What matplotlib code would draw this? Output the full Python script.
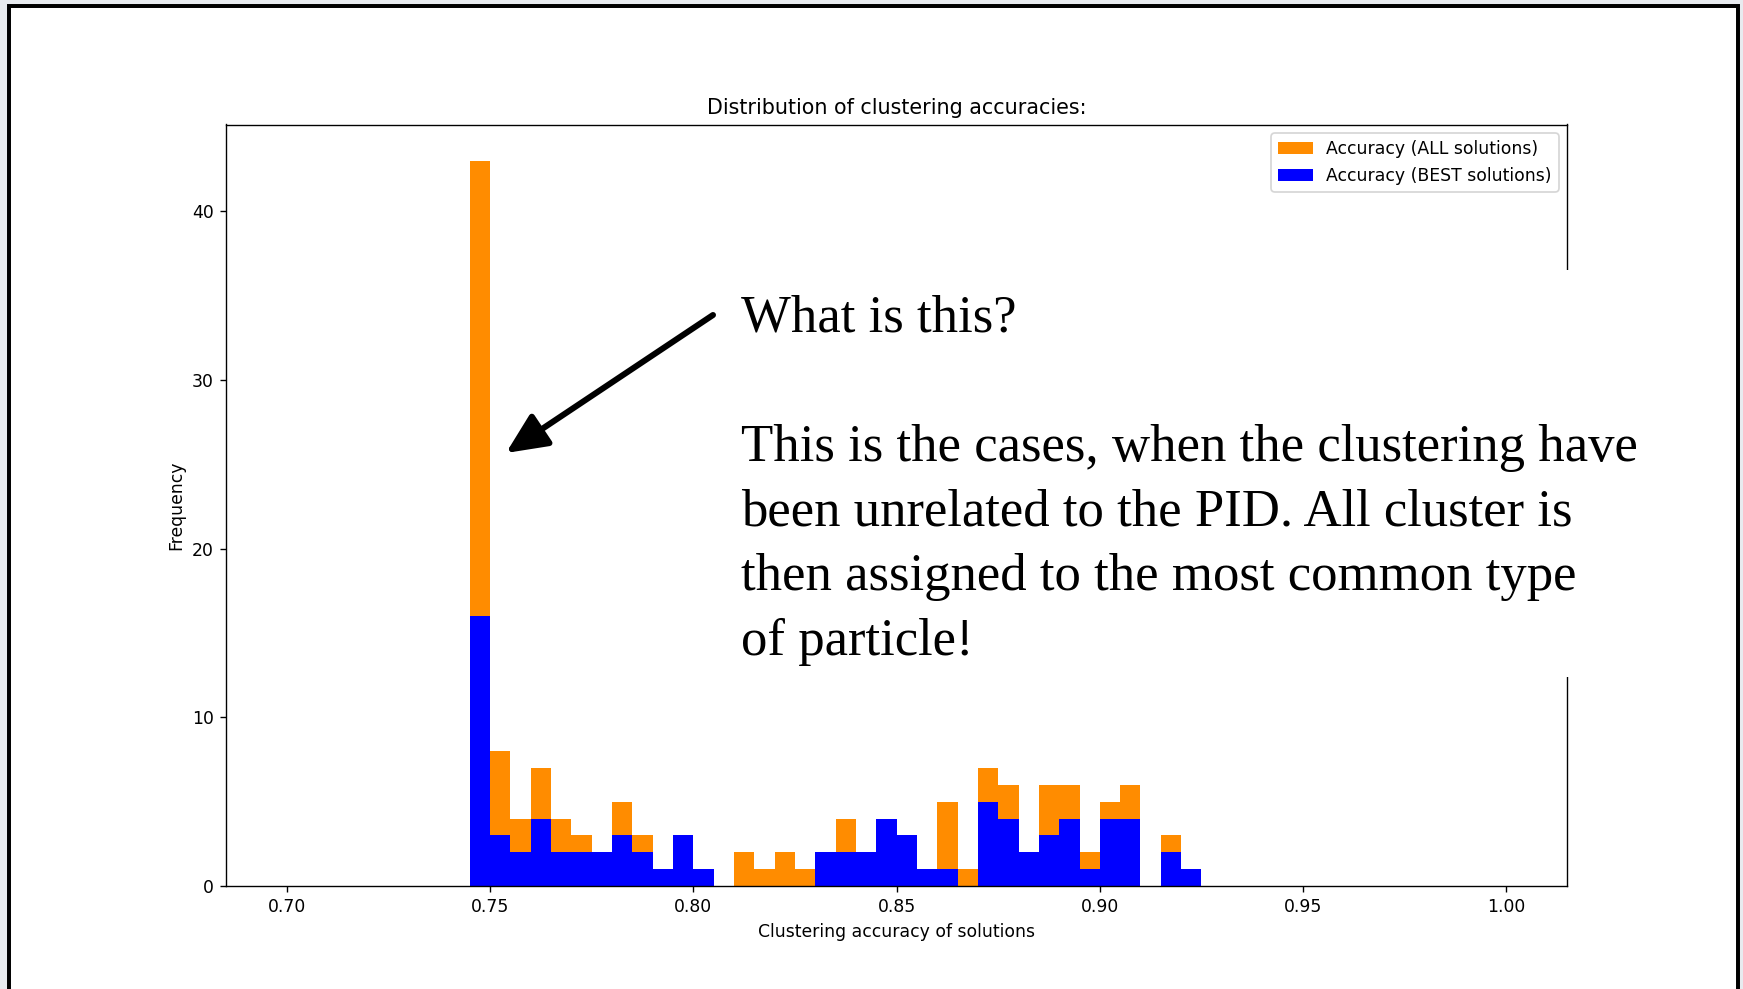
import numpy as np
import matplotlib
matplotlib.use("Agg")
import matplotlib.pyplot as plt
from matplotlib.patches import Rectangle

# histogram counts, 60 bins of width 0.005 between 0.70 and 1.00
bin_edges = np.linspace(0.70, 1.00, 61)
counts_all = [0, 0, 0, 0, 0, 0, 0, 0, 0,
              43, 8, 4, 7, 4, 3, 2, 5, 3, 1, 3, 1, 0,
              2, 1, 2, 1, 2, 4, 2, 4, 3, 1, 5, 1,
              7, 6, 2, 6, 6, 2, 5, 6, 0, 3, 1,
              0, 0, 0, 0, 0, 0, 0, 0, 0, 0, 0, 0, 0, 0, 0]
counts_best = [0, 0, 0, 0, 0, 0, 0, 0, 0,
               16, 3, 2, 4, 2, 2, 2, 3, 2, 1, 3, 1, 0,
               0, 0, 0, 0, 2, 2, 2, 4, 3, 1, 1, 0,
               5, 4, 2, 3, 4, 1, 4, 4, 0, 2, 1,
               0, 0, 0, 0, 0, 0, 0, 0, 0, 0, 0, 0, 0, 0, 0]
bin_centers = (bin_edges[:-1] + bin_edges[1:]) / 2

note_title = "What is this?"
note_lines = ["This is the cases, when the clustering have",
              "been unrelated to the PID. All cluster is",
              "then assigned to the most common type",
              "of particle!"]

DPI = 124
W, H = 1743, 989
fig = plt.figure(figsize=(W / DPI, H / DPI), dpi=DPI, facecolor="#e8ebef")

# slide page with black frame
fig.add_artist(Rectangle((9 / W, -0.05), (1738 - 9) / W, 1.05 - 5.5 / H,
                         transform=fig.transFigure, facecolor="white",
                         edgecolor="black", linewidth=2.3, zorder=-1))

ax = fig.add_axes([225.7 / W, 103 / H, (1567.4 - 225.7) / W, (886 - 124.5) / H])
ax.hist(bin_centers, bins=bin_edges, weights=counts_all, color="darkorange",
        label="Accuracy (ALL solutions)")
ax.hist(bin_centers, bins=bin_edges, weights=counts_best, color="blue",
        label="Accuracy (BEST solutions)")
ax.set_title("Distribution of clustering accuracies:")
ax.set_xlabel("Clustering accuracy of solutions")
ax.set_ylabel("Frequency")
ax.legend(loc="upper right")

# white text box laid over the plot
fig.add_artist(Rectangle((735 / W, 1 - 677 / H), (1665 - 735) / W, (677 - 270) / H,
                         transform=fig.transFigure, facecolor="white",
                         edgecolor="none", zorder=1))

serif = "Liberation Serif"
fs = 30.6
fig.text(741 / W, 1 - 332 / H, note_title, family=serif, fontsize=fs,
         va="baseline", ha="left", zorder=3)
for i, line in enumerate(note_lines):
    fig.text(741 / W, 1 - (461 + 64.5 * i) / H, line, family=serif, fontsize=fs,
             va="baseline", ha="left", zorder=3)

ax.annotate("", xy=(506 / W, 1 - 453 / H), xycoords="figure fraction",
            xytext=(713 / W, 1 - 315 / H), textcoords="figure fraction",
            arrowprops=dict(arrowstyle="-|>,head_length=1.0,head_width=0.46",
                            mutation_scale=20, lw=3.5, color="black",
                            shrinkA=0, shrinkB=0),
            annotation_clip=False, zorder=4)

fig.savefig("out.png", dpi=DPI, facecolor=fig.get_facecolor())
